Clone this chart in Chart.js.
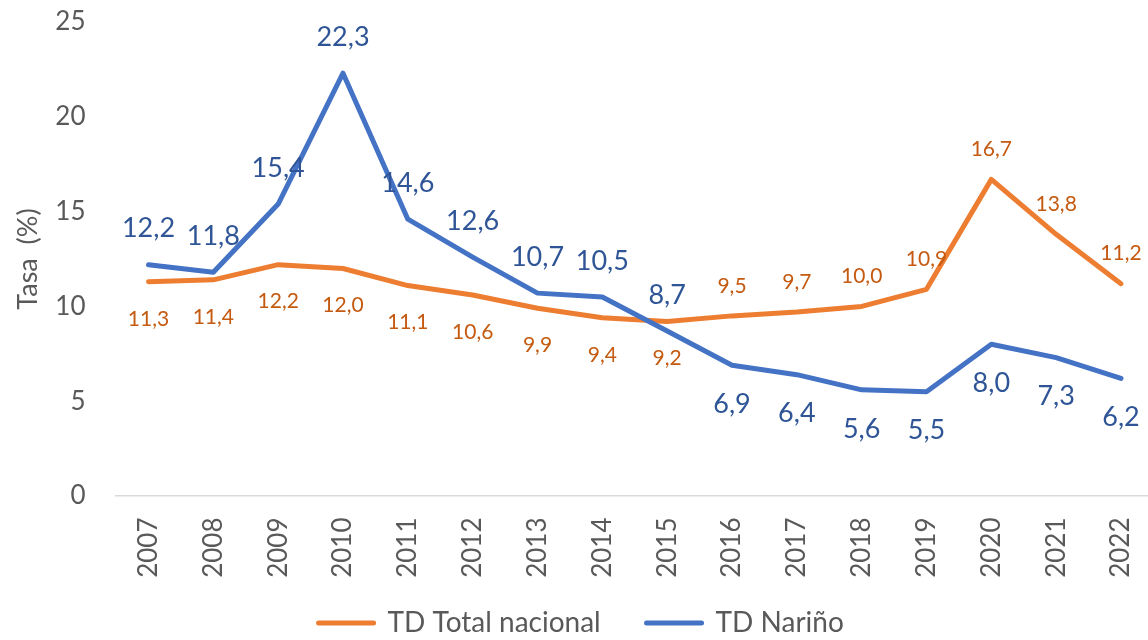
<!DOCTYPE html>
<html><head><meta charset="utf-8">
<script src="https://cdn.jsdelivr.net/npm/chart.js@4.4.1/dist/chart.umd.min.js"></script>
<style>
html,body{margin:0;padding:0;overflow:hidden;background:#fff;width:1148px;height:640px}
#wrap{position:absolute;left:0;top:0;width:1160px;height:647px}
canvas{display:block}
</style>
</head><body>
<div id="wrap"><canvas id="c" width="1160" height="647" style="width:1160px;height:647px"></canvas></div>
<script>
const years = ['2007','2008','2009','2010','2011','2012','2013','2014','2015','2016','2017','2018','2019','2020','2021','2022'];
const tdNacional = [11.3, 11.4, 12.2, 12.0, 11.1, 10.6, 9.9, 9.4, 9.2, 9.5, 9.7, 10.0, 10.9, 16.7, 13.8, 11.2];
const tdNarino = [12.2, 11.8, 15.4, 22.3, 14.6, 12.6, 10.7, 10.5, 8.7, 6.9, 6.4, 5.6, 5.5, 8.0, 7.3, 6.2];
const seriesNames = ['TD Total nacional', 'TD Nariño'];
const yMin = 0, yMax = 25, yStep = 5;

const FONT = 'Lato';
const fmt = v => v.toFixed(1).replace('.', ',');

const labelPlugin = {
  id: 'pointLabels',
  afterDatasetsDraw(chart, args, opts) {
    const ctx = chart.ctx;
    chart.data.datasets.forEach((ds, i) => {
      const st = opts.styles[i];
      const meta = chart.getDatasetMeta(i);
      ctx.save();
      ctx.font = st.size + 'px ' + FONT;
      ctx.fillStyle = st.color;
      ctx.textAlign = 'center';
      ctx.textBaseline = 'middle';
      meta.data.forEach((pt, j) => {
        const above = st.aboveUntil >= 0 ? (j <= st.aboveUntil) : (j > -st.aboveUntil - 1);
        const y = pt.y + (above ? -st.up : st.down);
        ctx.fillText(fmt(ds.data[j]), pt.x, y);
      });
      ctx.restore();
    });
  }
};

new Chart(document.getElementById('c'), {
  type: 'line',
  data: {
    labels: years,
    datasets: [
      { label: seriesNames[0], data: tdNacional, borderColor: '#ED7D31', backgroundColor: '#ED7D31',
        borderWidth: 5, pointRadius: 0, tension: 0, borderJoinStyle: 'round', borderCapStyle: 'round', order: 1 },
      { label: seriesNames[1], data: tdNarino, borderColor: '#4472C4', backgroundColor: '#4472C4',
        borderWidth: 5, pointRadius: 0, tension: 0, borderJoinStyle: 'round', borderCapStyle: 'round', order: 0 }
    ]
  },
  options: {
    responsive: false,
    animation: false,
    devicePixelRatio: 1,
    layout: { autoPadding: false, padding: { left: 9, right: 6.6, top: 22, bottom: 0 } },
    scales: {
      x: {
        offset: true,
        grid: { display: false, drawTicks: false, offset: true },
        border: { display: true, color: '#D9D9D9', width: 1.5 },
        ticks: { autoSkip: false, minRotation: 90, maxRotation: 90, padding: 21.5,
                 color: '#595959', font: { family: FONT, size: 26 } },
        afterFit(scale) { scale.height = 103; scale.paddingLeft = 0; scale.paddingRight = 0; }
      },
      y: {
        min: yMin, max: yMax,
        grid: { display: false, drawTicks: false },
        border: { display: false },
        ticks: { stepSize: yStep, padding: 30.6, color: '#595959', font: { family: FONT, size: 26 } },
        title: { display: true, text: 'Tasa  (%)', color: '#595959', font: { family: FONT, size: 27 },
                 padding: { top: 3, bottom: 4 } },
        afterFit(scale) { scale.width = 107.1; scale.paddingTop = 0; scale.paddingBottom = 0; }
      }
    },
    plugins: {
      tooltip: { enabled: false },
      legend: {
        position: 'bottom',
        labels: {
          usePointStyle: true,
          pointStyleWidth: 55,
          padding: 10,
          color: '#595959',
          font: { family: FONT, size: 28 },
          generateLabels(chart) {
            return chart.data.datasets.map((ds, i) => ({
              text: i === 0 ? ds.label + '     ' : ds.label,
              fillStyle: ds.borderColor, strokeStyle: ds.borderColor,
              lineWidth: 5, lineCap: 'round', pointStyle: 'line', hidden: false,
              datasetIndex: i, fontColor: '#595959'
            }));
          }
        }
      },
      pointLabels: {
        styles: [
          { size: 21, color: '#C55A11', aboveUntil: -9, up: 30, down: 37 },
          { size: 27, color: '#2F5597', aboveUntil: 8, up: 36, down: 39 }
        ]
      }
    }
  },
  plugins: [labelPlugin]
});
</script>
</body></html>
